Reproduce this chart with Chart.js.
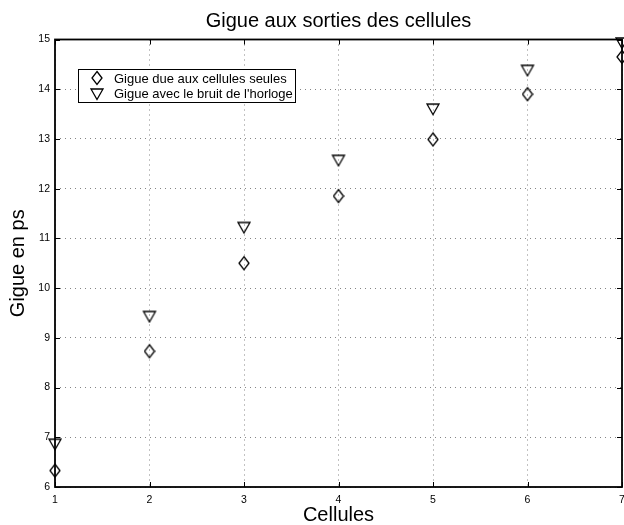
<!DOCTYPE html>
<html>
<head>
<meta charset="utf-8">
<script src="https://cdn.jsdelivr.net/npm/chart.js@4.4.0/dist/chart.umd.min.js"></script>
<style>
  html, body { margin: 0; padding: 0; background: #fff; overflow: hidden; }
  #wrap { width: 624px; height: 525px; }
  canvas { display: block; }
</style>
</head>
<body>
<div id="wrap"><canvas id="c" width="624" height="525"></canvas></div>
<script>
// Données
const cellules = [1, 2, 3, 4, 5, 6, 7];
const gigueCellules = [6.33, 8.73, 10.5, 11.85, 12.99, 13.9, 14.65];
const gigueHorloge = [6.86, 9.43, 11.22, 12.57, 13.6, 14.38, 14.93];
const labelsSeries = ['Gigue due aux cellules seules', "Gigue avec le bruit de l'horloge"];

const police = "'Liberation Sans', Arial, Helvetica, sans-serif";

// Marqueurs façon MATLAB : losange étroit et triangle pointe en bas
function marqueurLosange() {
    const c = document.createElement('canvas');
    c.width = 12; c.height = 16;
    const g = c.getContext('2d');
    g.strokeStyle = '#000'; g.lineWidth = 1.3;
    g.beginPath();
    g.moveTo(6, 1.5); g.lineTo(11, 8); g.lineTo(6, 14.5); g.lineTo(1, 8); g.closePath();
    g.stroke();
    return c;
}
function marqueurTriangle() {
    const c = document.createElement('canvas');
    c.width = 16; c.height = 14;
    const g = c.getContext('2d');
    g.strokeStyle = '#000'; g.lineWidth = 1.3;
    g.beginPath();
    g.moveTo(2, 2); g.lineTo(14, 2); g.lineTo(8, 12.5); g.closePath();
    g.stroke();
    return c;
}
const losange = marqueurLosange();
const triangle = marqueurTriangle();

// Cadre complet, graduations intérieures et légende encadrée
const cadreEtLegende = {
    id: 'cadreEtLegende',
    beforeDatasetsDraw(chart) {
        const { ctx, chartArea: a } = chart;
        ctx.save();
        ctx.strokeStyle = '#000';
        ctx.lineWidth = 1;
        const xs = chart.scales.x, ys = chart.scales.y;
        xs.ticks.forEach(t => {
            const px = Math.round(xs.getPixelForValue(t.value)) + 0.5;
            ctx.beginPath(); ctx.moveTo(px, a.top); ctx.lineTo(px, a.top + 5); ctx.stroke();
            ctx.beginPath(); ctx.moveTo(px, a.bottom); ctx.lineTo(px, a.bottom - 5); ctx.stroke();
        });
        ys.ticks.forEach(t => {
            const py = Math.round(ys.getPixelForValue(t.value)) + 0.5;
            ctx.beginPath(); ctx.moveTo(a.left, py); ctx.lineTo(a.left + 5, py); ctx.stroke();
            ctx.beginPath(); ctx.moveTo(a.right, py); ctx.lineTo(a.right - 5, py); ctx.stroke();
        });
        ctx.lineWidth = 1.8;
        ctx.strokeRect(a.left, a.top, a.right - a.left, a.bottom - a.top);
        ctx.restore();
    },
    afterDraw(chart) {
        const { ctx, chartArea: a } = chart;
        ctx.save();
        // légende
        const lx = Math.round(a.left + 23), ly = Math.round(a.top + 29), lw = 217, lh = 33;
        ctx.fillStyle = '#fff';
        ctx.fillRect(lx, ly, lw, lh);
        ctx.strokeStyle = '#000';
        ctx.lineWidth = 1;
        ctx.strokeRect(lx + 0.5, ly + 0.5, lw, lh);
        ctx.drawImage(losange, lx + 13, ly + 1);
        ctx.drawImage(triangle, lx + 11, ly + 18);
        ctx.fillStyle = '#000';
        ctx.font = '13px ' + police;
        ctx.textBaseline = 'middle';
        ctx.textAlign = 'left';
        ctx.fillText(labelsSeries[0], lx + 36, ly + 10);
        ctx.fillText(labelsSeries[1], lx + 36, ly + 25);
        ctx.restore();
    }
};

new Chart(document.getElementById('c'), {
    type: 'scatter',
    data: {
        datasets: [
            {
                label: labelsSeries[0],
                data: cellules.map((x, i) => ({ x, y: gigueCellules[i] })),
                pointStyle: losange,
                pointRadius: 8
            },
            {
                label: labelsSeries[1],
                data: cellules.map((x, i) => ({ x, y: gigueHorloge[i] })),
                pointStyle: triangle,
                pointRadius: 8
            }
        ]
    },
    options: {
        responsive: false,
        animation: false,
        clip: false,
        layout: { autoPadding: false, padding: { left: 0, top: 0, bottom: 0, right: 2 } },
        plugins: {
            legend: { display: false },
            tooltip: { enabled: false },
            title: {
                display: true,
                fullSize: false,
                text: 'Gigue aux sorties des cellules',
                color: '#000',
                font: { family: police, size: 20, weight: 'normal', lineHeight: 1.2 },
                padding: { top: 9.5, bottom: 6 }
            }
        },
        scales: {
            x: {
                type: 'linear',
                min: 1, max: 7,
                ticks: { stepSize: 1, color: '#000', font: { family: police, size: 10.5 }, padding: 7, maxRotation: 0 },
                grid: { color: '#666', lineWidth: 0.8, drawTicks: false },
                border: { display: false, dash: [1, 4] },
                title: {
                    display: true, text: 'Cellules', color: '#000',
                    font: { family: police, size: 20, lineHeight: 1 }, padding: { top: 0, bottom: 0 }
                },
                // hauteur fixe de l'axe ; le "7" déborde à droite comme sur l'original
                afterFit(scale) {
                    scale.height = 38;
                    scale.paddingRight = 0;
                    scale.paddingLeft = 0;
                }
            },
            y: {
                min: 6, max: 15,
                ticks: { stepSize: 1, color: '#000', font: { family: police, size: 10.5 }, padding: 5 },
                grid: { color: '#666', lineWidth: 0.8, drawTicks: false },
                border: { display: false, dash: [1, 4] },
                title: {
                    display: true, text: 'Gigue en ps', color: '#000',
                    font: { family: police, size: 20, lineHeight: 1.2 }, padding: { top: 6, bottom: 8 }
                },
                afterFit(scale) {
                    scale.width = 55;
                    scale.paddingTop = 0;
                    scale.paddingBottom = 0;
                }
            }
        }
    },
    plugins: [cadreEtLegende]
});
</script>
</body>
</html>
